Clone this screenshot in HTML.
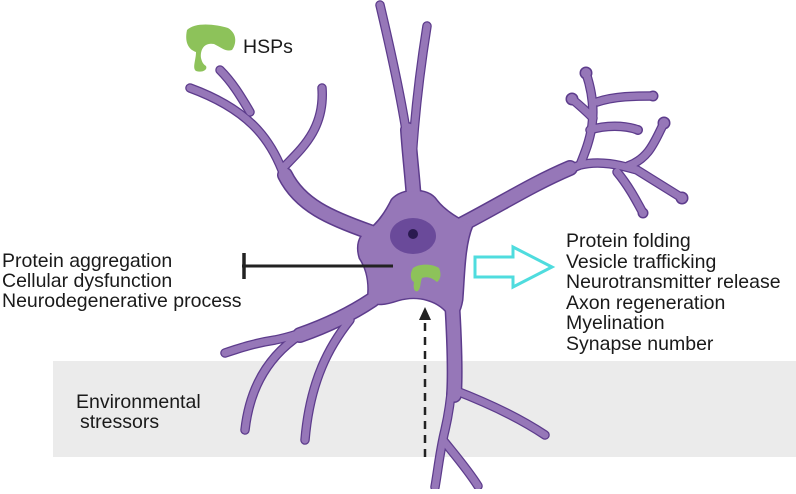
<!DOCTYPE html>
<html><head><style>
body{margin:0;background:#fff;}
.t{font-family:"Liberation Sans",sans-serif;font-size:19.5px;fill:#1a1a1a;}
</style></head><body>
<svg width="796" height="489" viewBox="0 0 796 489" xmlns="http://www.w3.org/2000/svg">
<rect x="53" y="361" width="743" height="96" fill="#ebebeb"/>
<defs>
<g id="den">
<path d="M415 215 C412 150 400 90 380 5"/>
<path d="M412 160 C415 110 420 70 427 26"/>
<path d="M370 232 C320 215 295 200 282 170 C270 140 250 110 190 88"/>
<path d="M250 112 C240 95 232 82 220 70"/>
<path d="M283 168 C300 150 325 130 322 88"/>
<path d="M455 228 C500 205 540 180 580 165 C600 160 620 165 637 170 L682 198"/>
<path d="M580 165 C590 140 600 115 586 73"/>
<path d="M597 102 C615 96 635 96 653 96"/>
<path d="M593 118 C585 110 578 104 572 99"/>
<path d="M590 130 C605 125 625 125 638 130"/>
<path d="M628 166 C650 158 655 140 664 123"/>
<path d="M617 172 C628 185 636 200 643 213"/>
<path d="M372 300 C340 320 300 335 275 340 C255 343 240 348 225 353"/>
<path d="M300 335 C270 355 250 385 245 430"/>
<path d="M350 320 C330 345 310 380 305 440"/>
<path d="M452 315 C455 360 452 400 445 430 C440 450 438 470 435 487"/>
<path d="M454 390 C480 400 515 415 545 435"/>
<path d="M443 440 C455 455 468 470 478 486"/>
</g>
<g id="trunk">
<path d="M415 215 C413 180 410 160 408 130"/>
<path d="M455 228 C500 205 530 185 570 168"/>
<path d="M452 300 C455 350 455 380 454 395"/>
<path d="M372 300 C345 318 320 328 300 335"/>
<path d="M370 232 C330 218 300 205 285 175"/>
</g>
<path id="soma" d="M392 200 C402 188 428 188 436 200 C445 212 460 220 472 226 C464 245 464 275 462 300 C460 312 456 318 450 316 C440 300 418 294 398 300 C386 304 376 306 368 300 C370 285 368 270 360 258 C356 245 360 236 366 232 C378 225 386 212 392 200 Z"/>
<g id="knobs">
<circle cx="586" cy="73" r="5"/><circle cx="572" cy="99" r="5"/><circle cx="653" cy="96" r="4"/>
<circle cx="638" cy="130" r="3.5"/><circle cx="664" cy="123" r="5"/><circle cx="643" cy="213" r="4"/><circle cx="682" cy="198" r="5"/>
</g>
</defs>
<!-- outlines -->
<g fill="none" stroke="#5d3c8c" stroke-linecap="round" stroke-linejoin="round">
<use href="#den" stroke-width="9.5"/>
<use href="#trunk" stroke-width="16"/>
</g>
<use href="#soma" fill="#5d3c8c" stroke="#5d3c8c" stroke-width="3"/>
<use href="#knobs" fill="#5d3c8c" stroke="#5d3c8c" stroke-width="3"/>
<!-- fills -->
<g fill="none" stroke="#9677b8" stroke-linecap="round" stroke-linejoin="round">
<use href="#den" stroke-width="7"/>
<use href="#trunk" stroke-width="13"/>
</g>
<use href="#soma" fill="#9677b8"/>
<use href="#knobs" fill="#9677b8"/>
<ellipse cx="413" cy="236" rx="23" ry="18" fill="#6a4a9a"/>
<circle cx="413" cy="234" r="5" fill="#2a1a50"/>
<g fill="#8dc25a">
<path d="M187 30 C195 22 215 24 228 28 C238 34 236 45 232 50 C226 52 222 48 214 44 C204 42 200 50 201 58 C202 62 203 64 206 66 C208 70 202 73 196 71 C192 68 196 60 196 52 C190 50 184 44 187 30 Z"/>
<path d="M413 268 C420 263 433 264 439 268 C442 275 440 280 437 282 C432 278 428 276 422 278 C420 283 421 288 418 291 C414 293 413 287 414 282 C410 280 410 273 413 268 Z"/>
</g>
<text class="t" x="243" y="53">HSPs</text>
<line x1="242" y1="266" x2="393" y2="266" stroke="#222" stroke-width="3"/>
<line x1="244" y1="253" x2="244" y2="279" stroke="#222" stroke-width="3.5"/>
<path d="M475 257 L513 257 L513 247 L552 267 L513 287 L513 277 L475 277 Z" fill="#fff" stroke="#4fdcde" stroke-width="3"/>
<line x1="425" y1="457" x2="425" y2="318" stroke="#222" stroke-width="2.5" stroke-dasharray="8 6"/>
<path d="M419 320 L425 307 L431 320 Z" fill="#222"/>
<text class="t" x="2" y="267">Protein aggregation</text>
<text class="t" x="2" y="287">Cellular dysfunction</text>
<text class="t" x="2" y="307">Neurodegenerative process</text>
<text class="t" x="566" y="247">Protein folding</text>
<text class="t" x="566" y="268">Vesicle trafficking</text>
<text class="t" x="566" y="288">Neurotransmitter release</text>
<text class="t" x="566" y="309">Axon regeneration</text>
<text class="t" x="566" y="329">Myelination</text>
<text class="t" x="566" y="350">Synapse number</text>
<text class="t" x="76" y="408">Environmental</text>
<text class="t" x="80" y="428">stressors</text>
</svg>
</body></html>
